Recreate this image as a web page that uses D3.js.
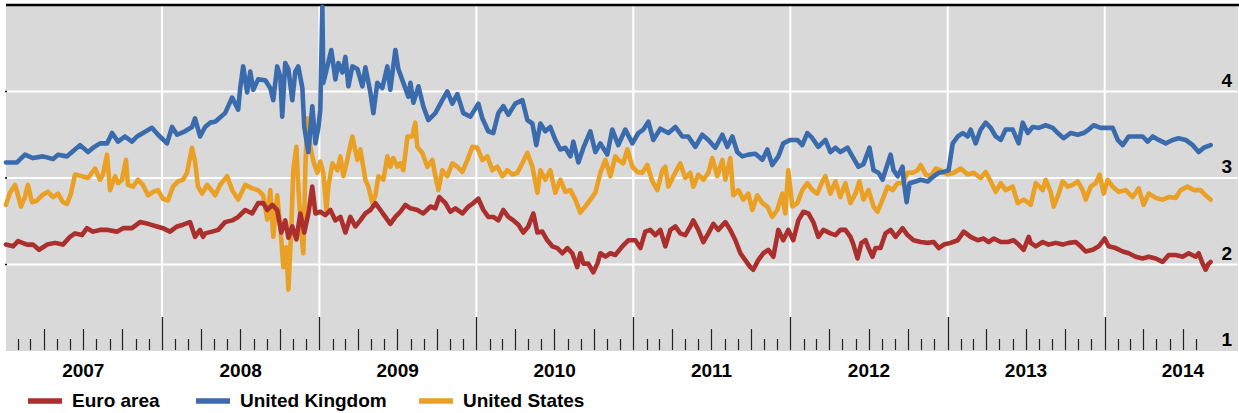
<!DOCTYPE html>
<html lang="en">
<head>
    <meta charset="UTF-8">
    <title>Long-term yields - Euro area, UK, US</title>
    <script src="https://d3js.org/d3.v7.min.js"></script>
    <style>
        body { margin: 0; background: #fff; }
        svg text { font-family: "Liberation Sans", Arial, sans-serif; font-weight: bold; fill: #000; }
        .series { fill: none; stroke-width: 4.6px; stroke-linejoin: round; stroke-linecap: round; }
    </style>
</head>
<body>
<svg width="1239" height="413"></svg>
<script>
    // Values, as [decimal year, percent]
    const euroArea = [
        [2007.006,2.23],[2007.051,2.21],[2007.083,2.27],[2007.140,2.23],[2007.178,2.23],[2007.217,2.17],[2007.268,2.23],[2007.318,2.25],
        [2007.369,2.23],[2007.414,2.32],[2007.446,2.36],[2007.490,2.34],[2007.522,2.42],[2007.561,2.38],[2007.605,2.40],[2007.656,2.40],
        [2007.713,2.38],[2007.752,2.42],[2007.809,2.42],[2007.860,2.49],[2007.911,2.47],[2007.968,2.44],[2008.006,2.42],[2008.051,2.38],
        [2008.096,2.44],[2008.134,2.46],[2008.178,2.49],[2008.210,2.32],[2008.242,2.40],[2008.261,2.32],[2008.274,2.36],[2008.318,2.38],
        [2008.357,2.40],[2008.401,2.49],[2008.446,2.51],[2008.484,2.55],[2008.529,2.63],[2008.573,2.59],[2008.611,2.71],[2008.643,2.71],
        [2008.669,2.63],[2008.701,2.69],[2008.732,2.63],[2008.758,2.37],[2008.783,2.51],[2008.803,2.31],[2008.828,2.44],[2008.854,2.29],
        [2008.879,2.59],[2008.904,2.37],[2008.930,2.59],[2008.955,2.90],[2008.975,2.59],[2009.006,2.61],[2009.038,2.57],[2009.070,2.63],
        [2009.102,2.51],[2009.134,2.55],[2009.166,2.37],[2009.197,2.55],[2009.229,2.44],[2009.261,2.51],[2009.293,2.59],[2009.325,2.63],
        [2009.357,2.71],[2009.389,2.63],[2009.420,2.55],[2009.452,2.47],[2009.484,2.55],[2009.516,2.61],[2009.548,2.69],[2009.580,2.65],
        [2009.624,2.63],[2009.662,2.59],[2009.707,2.67],[2009.739,2.65],[2009.764,2.78],[2009.803,2.71],[2009.834,2.61],[2009.866,2.65],
        [2009.911,2.59],[2009.949,2.67],[2009.981,2.71],[2010.013,2.76],[2010.045,2.63],[2010.076,2.55],[2010.108,2.55],[2010.140,2.51],
        [2010.172,2.63],[2010.204,2.55],[2010.236,2.51],[2010.268,2.46],[2010.299,2.37],[2010.331,2.44],[2010.363,2.59],[2010.389,2.37],
        [2010.420,2.38],[2010.452,2.28],[2010.484,2.21],[2010.516,2.19],[2010.548,2.13],[2010.580,2.19],[2010.611,2.13],[2010.643,1.97],
        [2010.662,2.13],[2010.682,2.01],[2010.713,2.01],[2010.745,1.91],[2010.771,2.01],[2010.790,2.13],[2010.822,2.09],[2010.854,2.13],
        [2010.885,2.11],[2010.930,2.21],[2010.968,2.28],[2011.013,2.28],[2011.045,2.19],[2011.076,2.38],[2011.108,2.40],[2011.140,2.34],
        [2011.172,2.40],[2011.204,2.21],[2011.236,2.40],[2011.268,2.44],[2011.299,2.36],[2011.331,2.34],[2011.363,2.44],[2011.382,2.51],
        [2011.414,2.40],[2011.446,2.26],[2011.478,2.36],[2011.510,2.47],[2011.541,2.40],[2011.586,2.49],[2011.618,2.40],[2011.650,2.28],
        [2011.682,2.13],[2011.713,2.05],[2011.745,1.97],[2011.764,1.94],[2011.796,2.05],[2011.828,2.13],[2011.860,2.17],[2011.892,2.09],
        [2011.924,2.40],[2011.955,2.28],[2011.987,2.40],[2012.019,2.28],[2012.051,2.51],[2012.083,2.61],[2012.115,2.59],[2012.146,2.49],
        [2012.178,2.32],[2012.210,2.40],[2012.255,2.36],[2012.287,2.34],[2012.318,2.40],[2012.350,2.40],[2012.382,2.32],[2012.401,2.23],
        [2012.427,2.07],[2012.452,2.25],[2012.478,2.28],[2012.497,2.19],[2012.522,2.09],[2012.541,2.19],[2012.573,2.19],[2012.605,2.36],
        [2012.637,2.40],[2012.669,2.32],[2012.713,2.42],[2012.745,2.34],[2012.783,2.28],[2012.828,2.26],[2012.873,2.25],[2012.911,2.26],
        [2012.943,2.19],[2012.975,2.23],[2013.019,2.25],[2013.064,2.28],[2013.102,2.38],[2013.146,2.32],[2013.191,2.28],[2013.229,2.30],
        [2013.261,2.26],[2013.293,2.30],[2013.338,2.26],[2013.382,2.26],[2013.420,2.28],[2013.452,2.23],[2013.484,2.17],[2013.516,2.32],
        [2013.529,2.25],[2013.561,2.21],[2013.605,2.26],[2013.643,2.23],[2013.688,2.25],[2013.732,2.23],[2013.771,2.25],[2013.815,2.26],
        [2013.847,2.21],[2013.879,2.15],[2013.924,2.17],[2013.962,2.21],[2014.000,2.30],[2014.025,2.21],[2014.070,2.19],[2014.115,2.15],
        [2014.153,2.13],[2014.197,2.09],[2014.242,2.07],[2014.280,2.09],[2014.325,2.07],[2014.369,2.03],[2014.408,2.11],[2014.452,2.11],
        [2014.497,2.09],[2014.535,2.13],[2014.580,2.09],[2014.599,2.13],[2014.624,2.01],[2014.643,1.94],[2014.662,2.01],[2014.675,2.03]
    ];

    const unitedKingdom = [
        [2007.006,3.18],[2007.076,3.18],[2007.127,3.27],[2007.178,3.23],[2007.242,3.25],[2007.306,3.22],[2007.338,3.27],[2007.395,3.25],
        [2007.427,3.30],[2007.478,3.38],[2007.529,3.30],[2007.561,3.35],[2007.605,3.40],[2007.650,3.40],[2007.682,3.52],[2007.720,3.42],
        [2007.764,3.48],[2007.809,3.42],[2007.841,3.48],[2007.879,3.52],[2007.936,3.58],[2007.975,3.50],[2008.032,3.40],[2008.064,3.59],
        [2008.096,3.50],[2008.146,3.54],[2008.191,3.59],[2008.210,3.69],[2008.242,3.48],[2008.274,3.59],[2008.306,3.64],[2008.338,3.65],
        [2008.401,3.75],[2008.446,3.93],[2008.484,3.79],[2008.497,4.04],[2008.516,4.29],[2008.541,3.99],[2008.561,4.23],[2008.580,4.02],
        [2008.611,4.14],[2008.656,4.13],[2008.688,4.04],[2008.707,3.90],[2008.732,4.29],[2008.752,4.17],[2008.764,3.71],[2008.783,4.33],
        [2008.803,4.26],[2008.828,3.90],[2008.847,4.23],[2008.866,4.29],[2008.892,4.04],[2008.904,3.59],[2008.930,3.30],[2008.955,3.83],
        [2008.975,3.40],[2008.994,3.59],[2009.006,3.79],[2009.019,4.98],[2009.025,4.10],[2009.051,4.29],[2009.076,4.48],[2009.102,4.14],
        [2009.121,4.33],[2009.146,4.22],[2009.166,4.40],[2009.185,4.06],[2009.210,4.29],[2009.242,4.26],[2009.274,4.06],[2009.293,4.28],
        [2009.325,3.99],[2009.344,3.75],[2009.369,4.10],[2009.401,4.04],[2009.433,4.29],[2009.452,4.02],[2009.484,4.48],[2009.503,4.26],
        [2009.535,4.10],[2009.567,3.94],[2009.580,4.10],[2009.599,3.87],[2009.631,4.06],[2009.662,3.83],[2009.694,3.67],[2009.739,3.75],
        [2009.783,3.90],[2009.815,4.00],[2009.847,3.86],[2009.879,3.97],[2009.917,3.75],[2009.962,3.71],[2010.013,3.86],[2010.038,3.69],
        [2010.076,3.54],[2010.108,3.52],[2010.140,3.75],[2010.172,3.83],[2010.204,3.73],[2010.248,3.86],[2010.293,3.90],[2010.325,3.67],
        [2010.357,3.63],[2010.382,3.38],[2010.408,3.63],[2010.439,3.54],[2010.471,3.59],[2010.503,3.44],[2010.535,3.33],[2010.567,3.35],
        [2010.599,3.25],[2010.618,3.42],[2010.650,3.18],[2010.682,3.35],[2010.726,3.54],[2010.758,3.30],[2010.790,3.40],[2010.834,3.27],
        [2010.866,3.56],[2010.904,3.38],[2010.949,3.56],[2010.994,3.40],[2011.032,3.52],[2011.064,3.56],[2011.096,3.65],[2011.127,3.44],
        [2011.172,3.57],[2011.223,3.52],[2011.268,3.59],[2011.312,3.48],[2011.350,3.48],[2011.395,3.36],[2011.439,3.50],[2011.478,3.44],
        [2011.522,3.35],[2011.567,3.50],[2011.599,3.36],[2011.631,3.48],[2011.662,3.30],[2011.694,3.25],[2011.732,3.27],[2011.777,3.28],
        [2011.822,3.21],[2011.854,3.33],[2011.885,3.15],[2011.924,3.25],[2011.955,3.40],[2012.000,3.44],[2012.045,3.44],[2012.076,3.38],
        [2012.108,3.52],[2012.140,3.46],[2012.178,3.36],[2012.223,3.44],[2012.255,3.30],[2012.287,3.35],[2012.318,3.30],[2012.363,3.35],
        [2012.401,3.23],[2012.433,3.13],[2012.465,3.16],[2012.503,3.35],[2012.529,3.09],[2012.561,3.06],[2012.586,2.98],[2012.605,3.09],
        [2012.637,3.27],[2012.656,3.09],[2012.682,3.02],[2012.713,3.13],[2012.720,2.98],[2012.739,2.72],[2012.758,2.94],[2012.796,2.96],
        [2012.828,2.98],[2012.873,2.96],[2012.911,3.02],[2012.943,3.06],[2012.975,3.07],[2013.006,3.09],[2013.032,3.40],[2013.064,3.48],
        [2013.096,3.52],[2013.127,3.48],[2013.146,3.56],[2013.178,3.40],[2013.210,3.56],[2013.242,3.64],[2013.274,3.58],[2013.306,3.48],
        [2013.338,3.44],[2013.369,3.56],[2013.414,3.56],[2013.452,3.40],[2013.478,3.64],[2013.510,3.52],[2013.541,3.59],[2013.580,3.58],
        [2013.624,3.61],[2013.669,3.58],[2013.701,3.52],[2013.739,3.46],[2013.783,3.52],[2013.828,3.50],[2013.866,3.52],[2013.898,3.56],
        [2013.930,3.61],[2013.975,3.58],[2014.019,3.58],[2014.051,3.58],[2014.083,3.44],[2014.115,3.38],[2014.153,3.48],[2014.197,3.48],
        [2014.242,3.48],[2014.274,3.42],[2014.306,3.48],[2014.344,3.44],[2014.389,3.40],[2014.433,3.44],[2014.471,3.46],[2014.516,3.44],
        [2014.561,3.38],[2014.599,3.30],[2014.631,3.35],[2014.675,3.38]
    ];

    const unitedStates = [
        [2007.006,2.69],[2007.032,2.83],[2007.064,2.92],[2007.083,2.80],[2007.102,2.67],[2007.127,2.78],[2007.146,2.92],[2007.172,2.72],
        [2007.204,2.74],[2007.236,2.80],[2007.274,2.84],[2007.306,2.78],[2007.338,2.82],[2007.369,2.72],[2007.395,2.70],[2007.420,2.82],
        [2007.446,3.04],[2007.490,3.02],[2007.529,3.00],[2007.573,3.11],[2007.605,2.98],[2007.624,3.04],[2007.650,3.27],[2007.669,2.86],
        [2007.701,3.02],[2007.720,2.94],[2007.745,2.98],[2007.771,3.21],[2007.783,2.92],[2007.815,2.90],[2007.847,2.98],[2007.879,2.92],
        [2007.911,2.80],[2007.943,2.84],[2007.975,2.86],[2008.006,2.76],[2008.038,2.74],[2008.070,2.90],[2008.102,2.96],[2008.134,2.98],
        [2008.159,3.06],[2008.191,3.35],[2008.210,3.19],[2008.229,2.90],[2008.255,2.82],[2008.287,2.92],[2008.306,2.88],[2008.338,2.80],
        [2008.369,2.92],[2008.414,3.02],[2008.446,2.86],[2008.484,2.75],[2008.529,2.92],[2008.573,2.88],[2008.611,2.86],[2008.643,2.80],
        [2008.669,2.52],[2008.688,2.86],[2008.707,2.32],[2008.732,2.80],[2008.752,2.44],[2008.771,1.97],[2008.790,2.20],[2008.803,1.71],
        [2008.822,2.44],[2008.834,3.09],[2008.854,3.36],[2008.866,2.90],[2008.885,2.37],[2008.898,2.13],[2008.911,3.13],[2008.924,3.69],
        [2008.943,3.36],[2008.962,3.19],[2008.987,3.06],[2009.006,3.19],[2009.025,3.06],[2009.045,2.63],[2009.057,2.90],[2009.083,3.17],
        [2009.115,3.09],[2009.134,3.25],[2009.153,3.02],[2009.178,3.21],[2009.210,3.48],[2009.242,3.21],[2009.261,3.33],[2009.293,2.98],
        [2009.312,2.90],[2009.338,2.71],[2009.357,2.80],[2009.376,3.02],[2009.408,2.98],[2009.433,3.25],[2009.452,3.13],[2009.471,3.23],
        [2009.497,3.13],[2009.516,3.17],[2009.535,3.09],[2009.561,3.48],[2009.592,3.48],[2009.611,3.64],[2009.624,3.36],[2009.656,3.29],
        [2009.688,3.13],[2009.720,3.21],[2009.739,3.02],[2009.758,2.86],[2009.783,3.09],[2009.815,3.02],[2009.847,3.17],[2009.879,3.13],
        [2009.911,3.07],[2009.943,3.21],[2009.975,3.36],[2010.006,3.35],[2010.038,3.21],[2010.070,3.25],[2010.102,3.09],[2010.134,3.13],
        [2010.166,3.02],[2010.197,3.09],[2010.229,3.04],[2010.261,3.06],[2010.293,3.17],[2010.325,3.29],[2010.357,3.13],[2010.389,2.83],
        [2010.408,3.09],[2010.439,2.98],[2010.471,3.09],[2010.503,2.83],[2010.535,2.98],[2010.567,2.84],[2010.599,2.86],[2010.631,2.75],
        [2010.662,2.60],[2010.694,2.67],[2010.726,2.75],[2010.758,2.83],[2010.790,3.06],[2010.822,3.21],[2010.854,3.02],[2010.885,3.25],
        [2010.904,3.21],[2010.936,3.17],[2010.962,3.33],[2010.994,3.13],[2011.025,3.07],[2011.057,3.06],[2011.089,3.15],[2011.121,2.96],
        [2011.153,2.86],[2011.185,3.09],[2011.204,3.13],[2011.223,2.90],[2011.255,3.02],[2011.299,3.17],[2011.331,3.00],[2011.363,3.06],
        [2011.382,2.90],[2011.414,3.04],[2011.446,2.98],[2011.478,3.06],[2011.503,3.23],[2011.535,3.02],[2011.567,3.21],[2011.586,2.98],
        [2011.618,3.23],[2011.637,2.80],[2011.669,2.86],[2011.701,2.75],[2011.732,2.82],[2011.758,2.63],[2011.790,2.80],[2011.822,2.71],
        [2011.854,2.67],[2011.885,2.55],[2011.917,2.63],[2011.949,2.82],[2011.968,2.59],[2011.987,3.09],[2012.013,2.67],[2012.045,2.71],
        [2012.076,2.86],[2012.108,2.94],[2012.140,2.86],[2012.172,2.82],[2012.204,2.96],[2012.223,3.02],[2012.255,2.82],[2012.287,2.96],
        [2012.318,2.78],[2012.350,2.94],[2012.382,2.71],[2012.414,2.82],[2012.439,2.96],[2012.465,2.75],[2012.497,2.86],[2012.529,2.67],
        [2012.554,2.61],[2012.586,2.75],[2012.618,2.90],[2012.650,2.86],[2012.682,2.94],[2012.713,2.94],[2012.745,3.06],[2012.777,3.06],
        [2012.809,3.09],[2012.828,3.15],[2012.860,3.04],[2012.892,3.02],[2012.924,3.11],[2012.955,3.09],[2013.000,3.04],[2013.038,3.06],
        [2013.083,3.11],[2013.127,3.04],[2013.166,3.06],[2013.210,3.00],[2013.242,3.07],[2013.274,2.96],[2013.306,2.84],[2013.338,2.94],
        [2013.369,2.86],[2013.414,2.90],[2013.446,2.71],[2013.484,2.75],[2013.516,2.71],[2013.529,2.69],[2013.561,2.94],[2013.605,2.86],
        [2013.624,2.98],[2013.656,2.84],[2013.675,2.67],[2013.707,2.82],[2013.732,2.96],[2013.764,2.90],[2013.796,2.92],[2013.828,2.96],
        [2013.860,2.86],[2013.879,2.75],[2013.911,2.90],[2013.943,2.94],[2013.968,3.04],[2013.994,2.82],[2014.019,2.98],[2014.051,2.90],
        [2014.089,2.84],[2014.134,2.86],[2014.178,2.78],[2014.217,2.88],[2014.248,2.69],[2014.280,2.82],[2014.325,2.77],[2014.369,2.75],
        [2014.408,2.78],[2014.452,2.77],[2014.484,2.86],[2014.529,2.90],[2014.567,2.86],[2014.611,2.86],[2014.643,2.80],[2014.675,2.75]
    ];

    const seriesNames = ["Euro area", "United Kingdom", "United States"];
    const seriesColors = ["#AA2F2D", "#3A6BAD", "#EAA024"];
    const yTicks = [1, 2, 3, 4];
    const yearLabels = [2007, 2008, 2009, 2010, 2011, 2012, 2013, 2014];

    // decimal year -> Date
    function toDate(t) {
        const yr = Math.floor(t);
        const a = new Date(yr, 0, 1), b = new Date(yr + 1, 0, 1);
        return new Date(+a + (t - yr) * (b - a));
    }

    const svg = d3.select("svg");
    const plot = { left: 6, right: 1238, top: 6, bottom: 351 };

    const x = d3.scaleTime()
        .domain([new Date(2007, 0, 1), new Date(2014, 10, 7)])
        .range([5, 1238]);
    const y = d3.scaleLinear().domain([1, 5]).range([351, 5]);

    // grey panel
    svg.append("rect")
        .attr("x", plot.left).attr("y", plot.top)
        .attr("width", plot.right - plot.left).attr("height", plot.bottom - plot.top)
        .attr("fill", "#D9D9D9");

    // horizontal gridlines
    svg.selectAll(".hgrid").data(yTicks.slice(1)).enter().append("line")
        .attr("x1", plot.left).attr("x2", plot.right)
        .attr("y1", d => y(d)).attr("y2", d => y(d))
        .attr("stroke", "#fff").attr("stroke-width", 2);

    // small left ticks
    svg.selectAll(".lt").data(yTicks.slice(1)).enter().append("line")
        .attr("x1", 5).attr("x2", 7)
        .attr("y1", d => y(d)).attr("y2", d => y(d))
        .attr("stroke", "#000").attr("stroke-width", 1.5);

    // vertical gridlines at year starts
    const yearStarts = yearLabels.slice(1).map(yr => new Date(yr, 0, 1));
    svg.selectAll(".vgrid").data(yearStarts).enter().append("line")
        .attr("x1", d => x(d)).attr("x2", d => x(d))
        .attr("y1", plot.top).attr("y2", 317)
        .attr("stroke", "#fff").attr("stroke-width", 2);

    // month ticks along the bottom of the panel
    const months = d3.timeMonths(new Date(2007, 1, 1), new Date(2014, 7, 2));
    svg.selectAll(".mt").data(months).enter().append("line")
        .attr("x1", d => Math.round(x(d)) + 0.5).attr("x2", d => Math.round(x(d)) + 0.5)
        .attr("y1", d => d.getMonth() === 0 ? 317 : (d.getMonth() % 3 === 0 ? 329 : 339))
        .attr("y2", plot.bottom - 1)
        .attr("stroke", "#222").attr("stroke-width", 1.2);

    // top border
    svg.append("line")
        .attr("x1", plot.left).attr("x2", 1239)
        .attr("y1", 5).attr("y2", 5)
        .attr("stroke", "#000").attr("stroke-width", 2.4);

    // series lines
    const line = d3.line()
        .x(d => x(toDate(d[0])))
        .y(d => y(d[1]));
    const drawOrder = [[unitedStates, 2], [euroArea, 0], [unitedKingdom, 1]];
    drawOrder.forEach(([data, i]) => {
        svg.append("path")
            .datum(data)
            .attr("class", "series")
            .attr("stroke", seriesColors[i])
            .attr("d", line);
    });

    // right-hand value labels
    svg.selectAll(".ylab").data(yTicks).enter().append("text")
        .attr("x", 1232).attr("y", d => y(d) - 5)
        .attr("text-anchor", "end")
        .style("font-size", "19px")
        .text(d => d);

    // year labels centred on each year
    svg.selectAll(".xlab").data(yearLabels).enter().append("text")
        .attr("x", d => x(new Date(d, 6, 2)))
        .attr("y", 377)
        .attr("text-anchor", "middle")
        .style("font-size", "19px")
        .text(d => d);

    // legend
    const legendX = [28, 196, 419];
    seriesNames.forEach((name, i) => {
        svg.append("line")
            .attr("x1", legendX[i]).attr("x2", legendX[i] + 34)
            .attr("y1", 401).attr("y2", 401)
            .attr("stroke", seriesColors[i]).attr("stroke-width", 5.5);
        svg.append("text")
            .attr("x", legendX[i] + 44).attr("y", 407)
            .style("font-size", "19px")
            .text(name);
    });
</script>
</body>
</html>
